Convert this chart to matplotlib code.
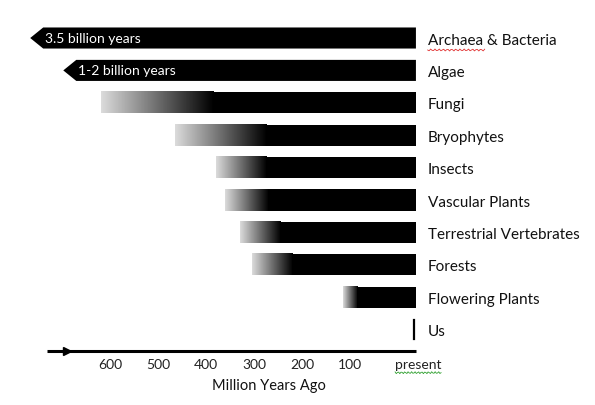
import numpy as np
import matplotlib
matplotlib.use("Agg")
import matplotlib.pyplot as plt
from matplotlib.patches import Rectangle, Polygon

plt.rcParams['font.family'] = ['Lato', 'DejaVu Sans']

# ---- data (million years ago) ----
groups = ["Archaea & Bacteria", "Algae", "Fungi", "Bryophytes", "Insects",
          "Vascular Plants", "Terrestrial Vertebrates", "Forests",
          "Flowering Plants", "Us"]
# open-ended (off-scale) groups drawn as arrows
arrow_groups = ["Archaea & Bacteria", "Algae"]
arrow_labels = ["3.5 billion years", "1-2 billion years"]
arrow_tips = [767, 698]
# gradient start (faint) and solid start (fully established)
fade_start = [None, None, 620, 465, 380, 360, 330, 305, 115, None]
solid_start = [None, None, 385, 275, 275, 270, 245, 220, 85, None]
tick_values = [600, 500, 400, 300, 200, 100]
tick_labels = ["600", "500", "400", "300", "200", "100"]
present_label = "present"
xlabel = "Million Years Ago"

# ---- layout ----
PRESENT_X = -37.5   # where the bars end on the drawn axis
fig = plt.figure(figsize=(5.95, 4.05), dpi=100)
ax = fig.add_axes([0, 0, 1, 1])
ax.set_xlim(830, -411)
ax.set_ylim(11.327, -1.173)
ax.axis('off')

h = 0.65
px = 1 / 0.4797  # data units per pixel along x
grad = np.linspace(0.86, 0.0, 256).reshape(1, -1)

for i, g in enumerate(groups):
    if g in arrow_groups:
        k = arrow_groups.index(g)
        tip = arrow_tips[k]
        body = tip - 13 * px
        poly = Polygon([(tip, i), (body, i - h / 2), (PRESENT_X, i - h / 2),
                        (PRESENT_X, i + h / 2), (body, i + h / 2)],
                       closed=True, facecolor='black', edgecolor='none')
        ax.add_patch(poly)
        ax.text(tip - 15 * px, i + 0.02, arrow_labels[k], color='white',
                fontsize=10, va='center', ha='left')
    elif fade_start[i] is not None:
        ax.imshow(grad, cmap='gray', vmin=0, vmax=1, aspect='auto',
                  extent=(fade_start[i], solid_start[i], i + h / 2, i - h / 2),
                  interpolation='bilinear', zorder=2)
        ax.add_patch(Rectangle((solid_start[i], i - h / 2),
                               PRESENT_X - solid_start[i], h,
                               facecolor='black', edgecolor='none', zorder=2))
    else:
        ax.plot([-33, -33], [i - 0.3, i + 0.3], color='black', lw=1.6)
    ax.text(-62, i + 0.08, g, fontsize=11, va='center', ha='left',
            color='#111111')

# red squiggle under "Archaea"
xs = np.linspace(-62, -62 - 57 * px, 40)
ax.plot(xs, 0.37 + 0.03 * np.sin(np.arange(40) * 2.2), color='#e03030', lw=0.6)

# time axis
yline = 9.66
ax.plot([732, PRESENT_X], [yline, yline], color='black', lw=2.2,
        solid_capstyle='butt')
ax.plot([690], [yline], marker='>', color='black', markersize=6)
for v, lab in zip(tick_values, tick_labels):
    ax.text(v, 10.09, lab, fontsize=10, ha='center', va='center', color='#222222')
ax.text(-42, 10.09, present_label, fontsize=10, ha='center', va='center',
        color='#222222')
xs = np.linspace(-42 - 23 * px, -42 + 23 * px, 40)
ax.plot(xs, 10.33 + 0.03 * np.sin(np.arange(40) * 2.2), color='#30a030', lw=0.6)
ax.text(270, 10.74, xlabel, fontsize=10.5, ha='center', va='center',
        color='#111111')

fig.savefig("out.png", dpi=100)
